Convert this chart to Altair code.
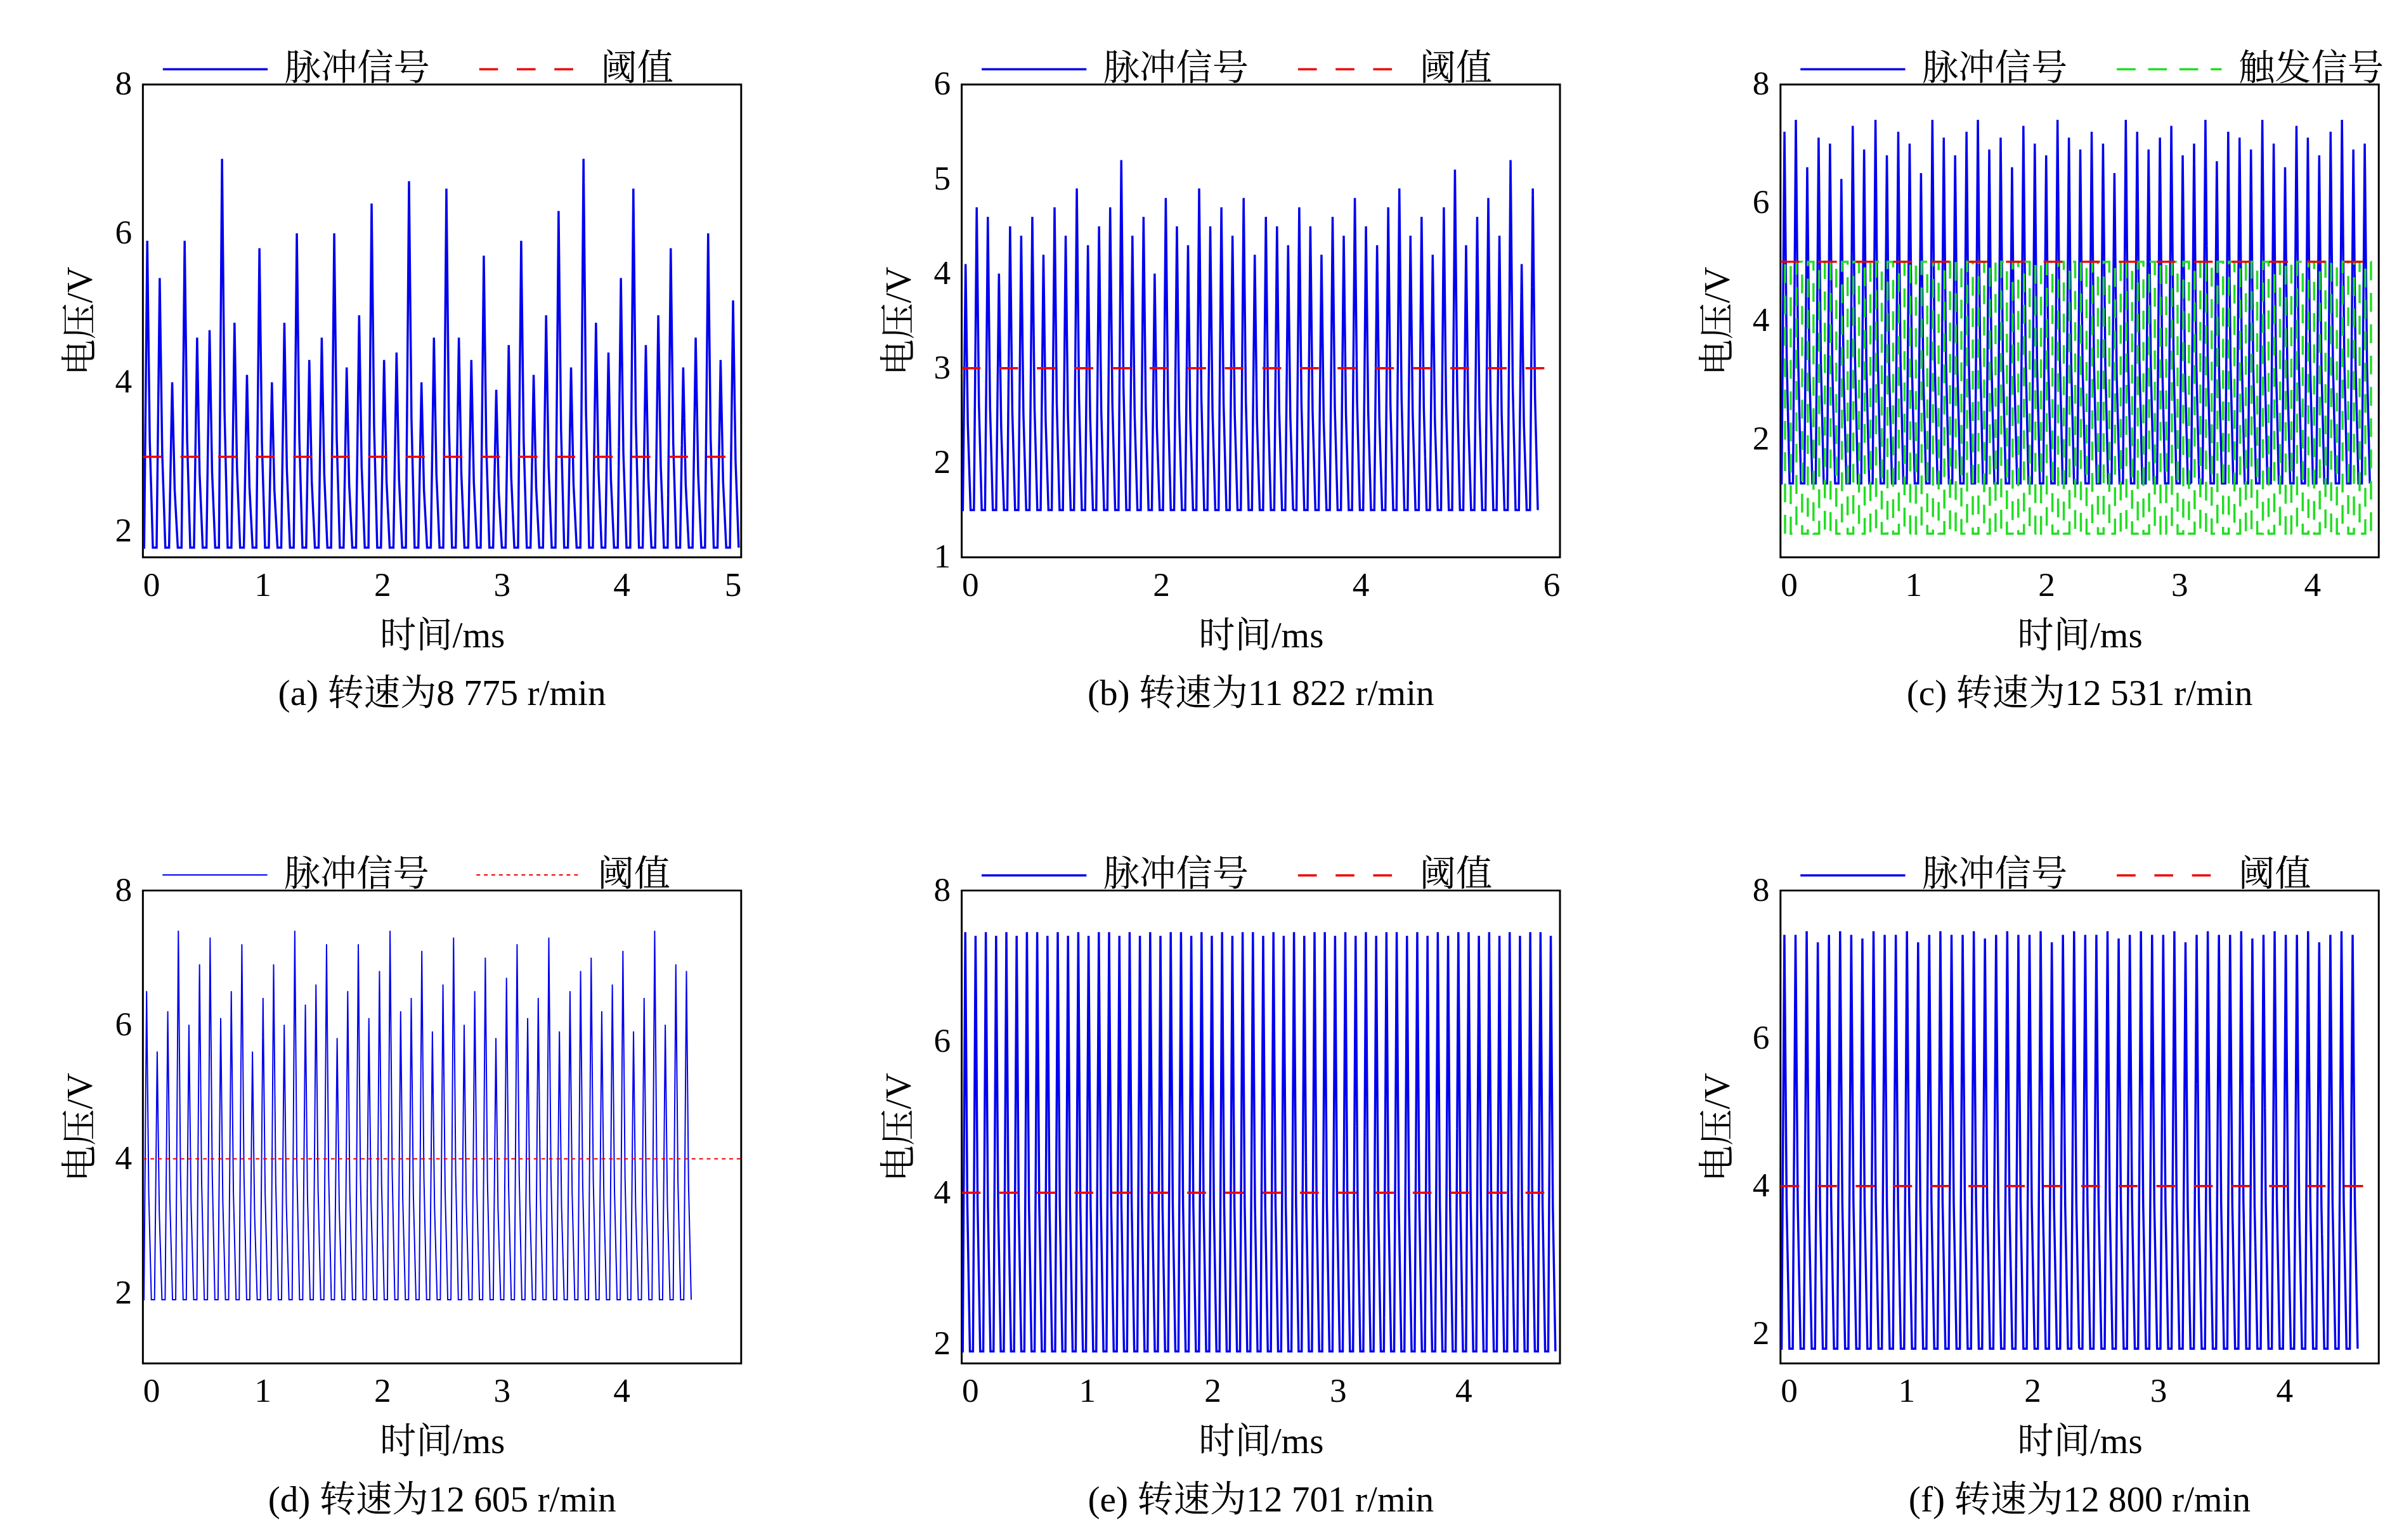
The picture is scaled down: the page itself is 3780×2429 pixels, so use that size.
import altair as alt
import pandas as pd

FONT = "Liberation Serif, Noto Serif CJK SC, Noto Sans CJK SC"

# peak voltages (one value per pulse)
peaks_a = [5.9, 5.4, 4.0, 5.9, 4.6, 4.7, 7.0, 4.8, 4.1, 5.8, 4.0, 4.8, 6.0, 4.3, 4.6, 6.0, 4.2, 4.9,
           6.4, 4.3, 4.4, 6.7, 4.0, 4.6, 6.6, 4.6, 4.3, 5.7, 3.9, 4.5, 5.9, 4.1, 4.9, 6.3, 4.2, 7.0,
           4.8, 4.4, 5.4, 6.6, 4.5, 4.9, 5.8, 4.2, 4.6, 6.0, 4.3, 5.1]
peaks_b = [4.1, 4.7, 4.6, 4.0, 4.5, 4.4, 4.6, 4.2, 4.7, 4.4, 4.9, 4.3, 4.5, 4.7, 5.2, 4.4, 4.6, 4.0,
           4.8, 4.5, 4.3, 4.9, 4.5, 4.7, 4.4, 4.8, 4.2, 4.6, 4.5, 4.3, 4.7, 4.5, 4.2, 4.6, 4.4, 4.8,
           4.5, 4.3, 4.7, 4.9, 4.4, 4.6, 4.2, 4.7, 5.1, 4.3, 4.6, 4.8, 4.4, 5.2, 4.1, 4.9]
peaks_c = [7.2, 7.4, 6.6, 7.1, 7.0, 6.4, 7.3, 6.9, 7.4, 6.8, 7.2, 7.0, 6.5, 7.4, 7.1, 6.8, 7.2, 7.4,
           6.9, 7.1, 6.6, 7.3, 7.0, 6.8, 7.4, 7.1, 6.9, 7.2, 7.0, 6.5, 7.4, 7.2, 6.9, 7.1, 7.3, 6.8,
           7.0, 7.4, 6.7, 7.2, 7.1, 6.9, 7.4, 7.0, 6.6, 7.3, 7.1, 6.8, 7.2, 7.4, 6.9, 7.0]
peaks_d = [6.5, 5.6, 6.2, 7.4, 6.0, 6.9, 7.3, 6.1, 6.5, 7.2, 5.6, 6.4, 6.9, 6.0, 7.4, 6.3, 6.6, 7.2,
           5.8, 6.5, 7.2, 6.1, 6.8, 7.4, 6.2, 6.4, 7.1, 5.9, 6.6, 7.3, 6.0, 6.5, 7.0, 5.8, 6.7, 7.2,
           6.1, 6.4, 7.3, 5.9, 6.5, 6.8, 7.0, 6.2, 6.6, 7.1, 5.9, 6.4, 7.4, 6.0, 6.9, 6.8]
peaks_e = [7.45, 7.4, 7.45, 7.4, 7.45, 7.4, 7.45, 7.45, 7.4, 7.45, 7.4, 7.45, 7.4, 7.45, 7.45, 7.4,
           7.45, 7.4, 7.45, 7.4, 7.45, 7.45, 7.4, 7.45, 7.4, 7.45, 7.4, 7.45, 7.45, 7.4, 7.45, 7.4,
           7.45, 7.4, 7.45, 7.45, 7.4, 7.45, 7.4, 7.45, 7.4, 7.45, 7.45, 7.4, 7.45, 7.4, 7.45, 7.4,
           7.45, 7.45, 7.4, 7.45, 7.4, 7.45, 7.4, 7.45, 7.45, 7.4]
peaks_f = [7.4, 7.4, 7.45, 7.3, 7.4, 7.45, 7.4, 7.35, 7.45, 7.4, 7.4, 7.45, 7.3, 7.4, 7.45, 7.4,
           7.4, 7.45, 7.35, 7.4, 7.45, 7.4, 7.4, 7.45, 7.3, 7.4, 7.45, 7.4, 7.4, 7.45, 7.35, 7.4,
           7.45, 7.4, 7.4, 7.45, 7.3, 7.4, 7.45, 7.4, 7.4, 7.45, 7.35, 7.4, 7.45, 7.4, 7.4, 7.45,
           7.3, 7.4, 7.45, 7.4]
# baseline (trough) voltages per panel
base_a, base_b, base_c, base_d, base_e, base_f = 1.78, 1.5, 1.25, 1.9, 1.9, 1.8
# signal end time (ms)
tend = [5.0, 5.8, 4.45, 4.6, 4.75, 4.6]
thresholds = [3, 3, 5, 4, 4, 4]
captions = ["(a) 转速为8 775 r/min", "(b) 转速为11 822 r/min", "(c) 转速为12 531 r/min",
            "(d) 转速为12 605 r/min", "(e) 转速为12 701 r/min", "(f) 转速为12 800 r/min"]
x_domains = [[0, 5], [0, 6], [0, 4.5], [0, 5], [0, 4.77], [0, 4.75]]
y_domains = [[1.65, 8], [1, 6], [0, 8], [0.95, 8], [1.74, 8], [1.6, 8]]
x_ticks = [[0, 1, 2, 3, 4, 5], [0, 2, 4, 6], [0, 1, 2, 3, 4], [0, 1, 2, 3, 4], [0, 1, 2, 3, 4], [0, 1, 2, 3, 4]]
y_ticks = [[2, 4, 6, 8], [1, 2, 3, 4, 5, 6], [2, 4, 6, 8], [2, 4, 6, 8], [2, 4, 6, 8], [2, 4, 6, 8]]
trig_low, trig_high = 0.4, 5.0


def wave(peaks, base, t_end):
    rows = []
    p = t_end / len(peaks)
    k = 0
    for i, v in enumerate(peaks):
        t0 = i * p
        for dt, y in [(0, base), (0.1 * p, base), (0.35 * p, v), (0.55 * p, base + 0.35 * (v - base)),
                      (0.8 * p, base)]:
            rows.append({"t": t0 + dt, "v": y, "k": k})
            k += 1
    return rows


def panel(idx, peaks, base, trig=False):
    sig = pd.DataFrame(wave(peaks, base, tend[idx]))
    sig["s"] = "脉冲信号"
    xd = x_domains[idx]
    thr = pd.DataFrame({"t": [xd[0], xd[1]], "v": [thresholds[idx]] * 2, "k": [0, 1]})
    thr["s"] = "阈值"
    frames = [sig, thr]
    if trig:
        rows = []
        p = tend[idx] / len(peaks)
        k = 0
        for i in range(len(peaks)):
            t0 = i * p + 0.4 * p
            for dt, y in [(0, trig_low), (0, trig_high), (0.5 * p, trig_high), (0.5 * p, trig_low)]:
                rows.append({"t": t0 + dt, "v": y, "k": k})
                k += 1
        tr = pd.DataFrame(rows)
        tr["s"] = "触发信号"
        frames = [sig, tr, thr]
        domain = ["脉冲信号", "触发信号", "阈值"]
        colors = ["#0000ee", "#22dd22", "#ee0000"]
        dashes = [[1, 0], [30, 20], [30, 30]]
        legend_vals = ["脉冲信号", "触发信号"]
    else:
        domain = ["脉冲信号", "阈值"]
        colors = ["#0000ee", "#ee0000"]
        dashes = [[1, 0], [30, 30]] if idx != 3 else [[1, 0], [6, 6]]
        legend_vals = domain
    df = pd.concat(frames)
    sw = 2 if idx == 3 else 3.5
    return alt.Chart(df).mark_line(strokeWidth=sw, clip=True).encode(
        x=alt.X("t:Q", scale=alt.Scale(domain=xd, nice=False, zero=False),
                axis=alt.Axis(title="时间/ms", values=x_ticks[idx], grid=False, ticks=False,
                              labelPadding=18, titlePadding=25)),
        y=alt.Y("v:Q", scale=alt.Scale(domain=y_domains[idx], nice=False, zero=False),
                axis=alt.Axis(title="电压/V", values=y_ticks[idx], grid=False, ticks=False,
                              labelPadding=18, titlePadding=25)),
        color=alt.Color("s:N", scale=alt.Scale(domain=domain, range=colors),
                        legend=alt.Legend(title=None, orient="none", direction="horizontal",
                                          legendX=30, legendY=-110, values=legend_vals,
                                          symbolType="stroke", symbolSize=28000, labelLimit=0,
                                          symbolStrokeWidth=sw, columnPadding=70, labelOffset=25)),
        strokeDash=alt.StrokeDash("s:N", scale=alt.Scale(domain=domain, range=dashes), legend=None),
        order="k:Q",
    ).properties(width=955, height=755,
                 title=alt.TitleParams(captions[idx], orient="bottom", offset=35))


charts = [
    panel(0, peaks_a, base_a), panel(1, peaks_b, base_b), panel(2, peaks_c, base_c, trig=True),
    panel(3, peaks_d, base_d), panel(4, peaks_e, base_e), panel(5, peaks_f, base_f),
]
row1 = alt.hconcat(*charts[:3], spacing=220).resolve_scale(color="independent", strokeDash="independent")
row2 = alt.hconcat(*charts[3:], spacing=220).resolve_scale(color="independent", strokeDash="independent")
chart = alt.vconcat(row1, row2, spacing=170).resolve_scale(
    color="independent", strokeDash="independent"
).configure(font=FONT).configure_view(stroke="black", strokeWidth=3).configure_axis(
    labelFont=FONT, titleFont=FONT, labelFontSize=54, titleFontSize=58, labelColor="black",
    titleColor="black", titleFontWeight="normal", domain=False
).configure_legend(labelFont=FONT, labelFontSize=58, labelColor="black").configure_title(
    font=FONT, fontSize=58, fontWeight="normal", color="black"
).properties(padding={"left": 90, "top": 0, "right": 10, "bottom": 0})

chart.save("out.html", embed_options={"renderer": "svg", "actions": False})
